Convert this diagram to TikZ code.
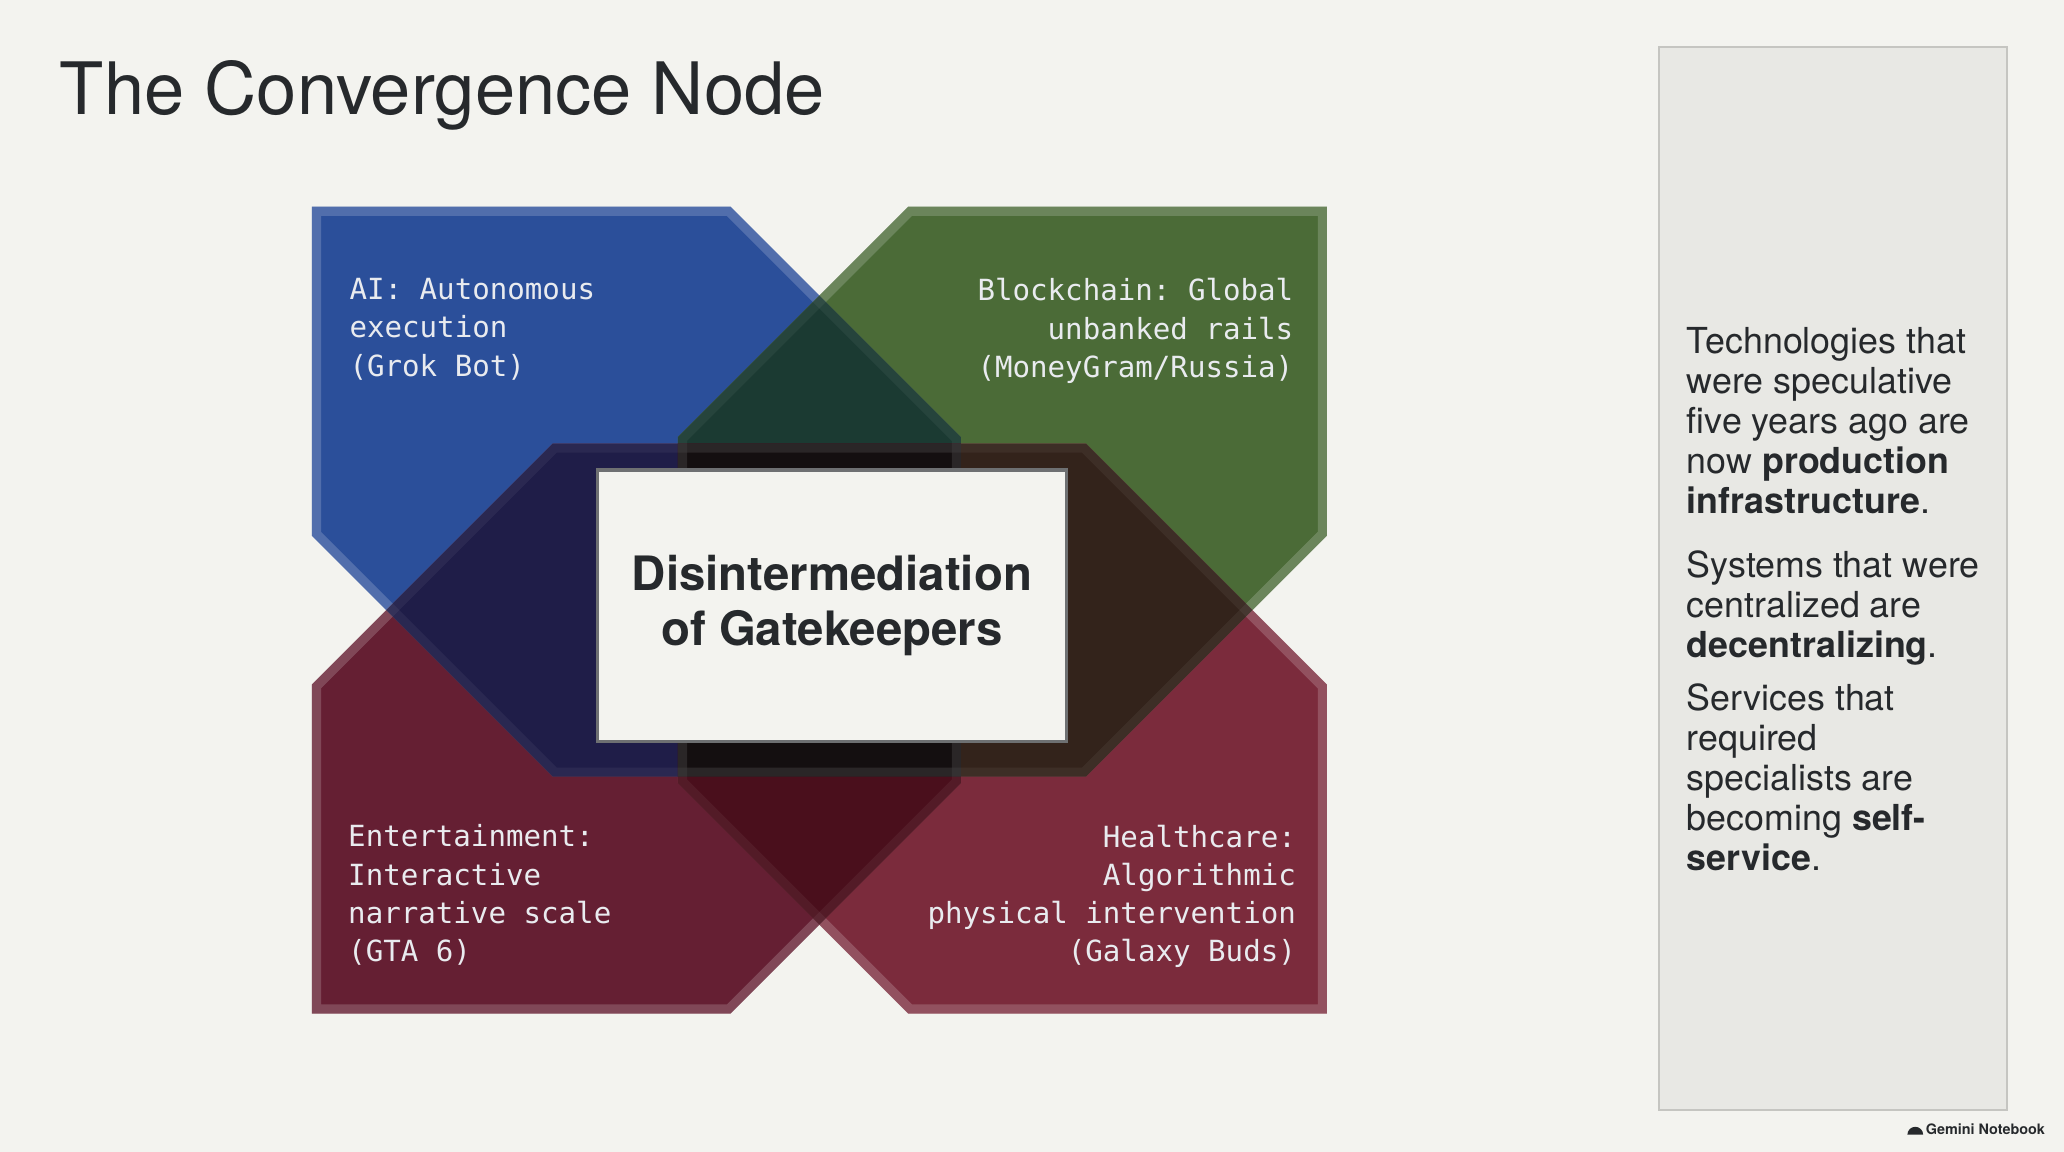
\documentclass[tikz,border=0pt]{standalone}
\usepackage{fontspec}
\setmainfont{TeX Gyre Heros}
\setmonofont{DejaVu Sans Mono}
\definecolor{paper}{HTML}{F3F3EF}
\definecolor{panel}{HTML}{E8E8E4}
\definecolor{panelline}{HTML}{C5C5C1}
\definecolor{ink}{HTML}{26292C}
\definecolor{hubline}{HTML}{6E7072}
\definecolor{tagtext}{HTML}{E9EBEF}
\definecolor{aiblue}{HTML}{2B4F9A}
\definecolor{chaingreen}{HTML}{4B6B37}
\definecolor{funred}{HTML}{651F33}
\definecolor{healred}{HTML}{7B2B3C}
\definecolor{ovteal}{HTML}{1B3A32}
\definecolor{ovnavy}{HTML}{1F1D48}
\definecolor{ovbrown}{HTML}{33231B}
\definecolor{ovwine}{HTML}{4A0F1C}
\definecolor{ovblack}{HTML}{140F10}
\begin{document}
\begin{tikzpicture}[x=0.375pt, y=-0.375pt,
  aipath/.style={insert path={(237,157) -- (555,157) -- (730,332) -- (730,590) -- (420,590) -- (237,407) -- cycle}},
  chainpath/.style={insert path={(690,157) -- (1008,157) -- (1008,407) -- (825,590) -- (515,590) -- (515,332) -- cycle}},
  funpath/.style={insert path={(420,337) -- (730,337) -- (730,595) -- (555,770) -- (237,770) -- (237,520) -- cycle}},
  healpath/.style={insert path={(515,337) -- (825,337) -- (1008,520) -- (1008,770) -- (690,770) -- (515,595) -- cycle}},
  band/.style={draw=white, draw opacity=0.14, line width=5.2pt, line join=miter},
  faintband/.style={draw=white, draw opacity=0.05, line width=5.2pt, line join=miter},
  tag/.style={inner sep=0pt, text=tagtext, font=\ttfamily\fontsize{8.3}{10.9}\selectfont},
  note/.style={anchor=north west, align=left, inner sep=0pt, text=ink, font=\fontsize{10.2}{11.4}\selectfont},
  hub/.style={draw=hubline, line width=0.9pt, fill=paper, minimum width=133.5pt, minimum height=77.25pt, align=center, text=ink, font=\bfseries\fontsize{13.5}{15.4}\selectfont}]
\useasboundingbox (0,0) rectangle (1568,875);
\fill[paper] (0,0) rectangle (1568,875);

% side panel
\draw[fill=panel, draw=panelline, line width=0.6pt] (1260,36) rectangle (1525,843);

\node[anchor=base west, inner sep=0pt, text=ink, font=\fontsize{20.6}{24}\selectfont] (title) at (45,87) {The Convergence Node};

% four sectors with their rims
\fill[aiblue, aipath];
\fill[chaingreen, chainpath];
\fill[funred, funpath];
\fill[healred, healpath];
\begin{scope} \clip[aipath]; \draw[band, aipath]; \end{scope}
\begin{scope} \clip[chainpath]; \draw[band, chainpath]; \end{scope}
\begin{scope} \clip[funpath]; \draw[band, funpath]; \end{scope}
\begin{scope} \clip[healpath]; \draw[band, healpath]; \end{scope}

% overlaps
\begin{scope} \clip[aipath]; \fill[ovteal, chainpath]; \fill[ovnavy, funpath]; \end{scope}
\begin{scope} \clip[healpath]; \fill[ovbrown, chainpath]; \fill[ovwine, funpath]; \end{scope}
\begin{scope} \clip[aipath]; \clip[chainpath]; \fill[ovblack, funpath]; \end{scope}

% rims seen through the overlaps
\begin{scope} \clip[aipath]; \draw[faintband, aipath]; \end{scope}
\begin{scope} \clip[chainpath]; \draw[faintband, chainpath]; \end{scope}
\begin{scope} \clip[funpath]; \draw[faintband, funpath]; \end{scope}
\begin{scope} \clip[healpath]; \draw[faintband, healpath]; \end{scope}

\node[hub] (hub) at (632,460) {Disintermediation\\of Gatekeepers};

\node[tag, anchor=north west, align=left] (ai) at (265,211) {AI: Autonomous\\execution\\(Grok Bot)};
\node[tag, anchor=north east, align=right] (chain) at (983,211) {Blockchain: Global\\unbanked rails\\(MoneyGram/Russia)};
\node[tag, anchor=north west, align=left] (fun) at (264,626) {Entertainment:\\Interactive\\narrative scale\\(GTA 6)};
\node[tag, anchor=north east, align=right] (heal) at (985,626) {Healthcare:\\Algorithmic\\physical intervention\\(Galaxy Buds)};

\node[note] (infra) at (1281,248) {Technologies that\\were speculative\\five years ago are\\now \textbf{production}\\\textbf{infrastructure}.};
\node[note] (decentral) at (1281,418) {Systems that were\\centralized are\\\textbf{decentralizing}.};
\node[note] (selfserve) at (1281,519) {Services that\\required\\specialists are\\becoming \textbf{self-}\\\textbf{service}.};

\fill[ink] (1449,862) arc[start angle=180, end angle=0, radius=2.25pt] -- cycle;
\node[anchor=base east, inner sep=0pt, text=ink, font=\bfseries\fontsize{4.1}{5}\selectfont] (brand) at (1554,861.5) {Gemini Notebook};
\end{tikzpicture}
\end{document}
